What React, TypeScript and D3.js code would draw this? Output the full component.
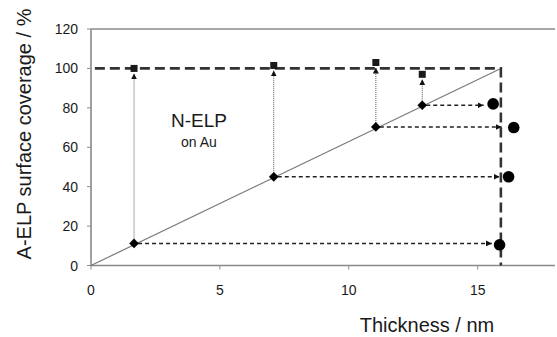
import { useEffect, useRef } from 'react';
import * as d3 from 'd3';

// thickness (nm) where each A-ELP layer sits on the diagonal
const diamondX = [1.67, 7.09, 11.05, 12.85];
const diamondY = [11.2, 45, 70.3, 81.3];
// measured coverage shown as squares
const squareY = [100, 101.5, 103, 97];
// measured thickness shown as circles
const circleX = [15.85, 16.2, 16.4, 15.6];
const circleY = [10.5, 45, 70, 82];
// where the horizontal arrows stop
const arrowEndX = [15.55, 15.85, 15.93, 15.23];

const maxThickness = 15.9;
const xTicks = [0, 5, 10, 15];
const yTicks = [0, 20, 40, 60, 80, 100, 120];

const W = 557;
const H = 337;
const FONT = 'Liberation Sans, Arial, Helvetica, sans-serif';

const App = () => {
  const ref = useRef<SVGSVGElement>(null);

  useEffect(() => {
    const svg = d3.select(ref.current);
    svg.selectAll('*').remove();

    const x = d3.scaleLinear().domain([0, 18]).range([91, 555]);
    const y = d3.scaleLinear().domain([0, 120]).range([265.5, 29]);

    const defs = svg.append('defs');
    defs.append('marker')
      .attr('id', 'ah')
      .attr('viewBox', '0 0 10 10')
      .attr('refX', 10)
      .attr('refY', 5)
      .attr('markerWidth', 6)
      .attr('markerHeight', 6)
      .attr('markerUnits', 'userSpaceOnUse')
      .attr('orient', 'auto')
      .append('path')
      .attr('d', 'M0,0L10,5L0,10Z')
      .attr('fill', '#111');

    // axes
    const axisColor = '#8a8a8a';
    svg.append('line')
      .attr('x1', x(0)).attr('x2', x(18))
      .attr('y1', y(0)).attr('y2', y(0))
      .attr('stroke', axisColor).attr('stroke-width', 1.6);
    svg.append('line')
      .attr('x1', x(0)).attr('x2', x(18))
      .attr('y1', y(120)).attr('y2', y(120))
      .attr('stroke', axisColor).attr('stroke-width', 1.6);
    svg.append('line')
      .attr('x1', x(0)).attr('x2', x(0))
      .attr('y1', y(0)).attr('y2', y(120))
      .attr('stroke', axisColor).attr('stroke-width', 1.6);

    xTicks.forEach((t) => {
      svg.append('line')
        .attr('x1', x(t)).attr('x2', x(t))
        .attr('y1', y(0)).attr('y2', y(0) + 4)
        .attr('stroke', axisColor).attr('stroke-width', 1);
      svg.append('text')
        .attr('x', x(t)).attr('y', 295)
        .attr('text-anchor', 'middle')
        .attr('font-family', FONT).attr('font-size', 14)
        .attr('fill', '#1a1a1a')
        .text(t);
    });
    yTicks.forEach((t) => {
      svg.append('line')
        .attr('x1', x(0) - 4).attr('x2', x(0))
        .attr('y1', y(t)).attr('y2', y(t))
        .attr('stroke', axisColor).attr('stroke-width', 1);
      svg.append('text')
        .attr('x', 78).attr('y', y(t) + 5)
        .attr('text-anchor', 'end')
        .attr('font-family', FONT).attr('font-size', 14)
        .attr('fill', '#1a1a1a')
        .text(t);
    });

    svg.append('text')
      .attr('x', 427).attr('y', 332)
      .attr('text-anchor', 'middle')
      .attr('font-family', FONT).attr('font-size', 20)
      .attr('fill', '#1a1a1a')
      .text('Thickness / nm');
    svg.append('text')
      .attr('transform', 'translate(31,134) rotate(-90)')
      .attr('text-anchor', 'middle')
      .attr('font-family', FONT).attr('font-size', 20)
      .attr('fill', '#1a1a1a')
      .text('A-ELP surface coverage / %');

    // label
    svg.append('text')
      .attr('x', 199).attr('y', 127)
      .attr('text-anchor', 'middle')
      .attr('font-family', FONT).attr('font-size', 19)
      .attr('fill', '#1a1a1a')
      .text('N-ELP');
    svg.append('text')
      .attr('x', 199).attr('y', 147)
      .attr('text-anchor', 'middle')
      .attr('font-family', FONT).attr('font-size', 14)
      .attr('fill', '#1a1a1a')
      .text('on Au');

    // diagonal
    svg.append('line')
      .attr('x1', x(0)).attr('y1', y(0))
      .attr('x2', x(maxThickness)).attr('y2', y(100))
      .attr('stroke', '#7a7a7a').attr('stroke-width', 1.2);

    // 100 % and max thickness dashed frame
    svg.append('path')
      .attr('d', `M${x(0.15)},${y(100)}H${x(maxThickness)}V${y(0)}`)
      .attr('fill', 'none')
      .attr('stroke', '#333')
      .attr('stroke-width', 2.6)
      .attr('stroke-dasharray', '10,5');

    // vertical dotted arrows
    diamondX.forEach((dx, i) => {
      svg.append('line')
        .attr('x1', x(dx)).attr('x2', x(dx))
        .attr('y1', y(diamondY[i]) - 4)
        .attr('y2', y(squareY[i]) + 5)
        .attr('stroke', '#555')
        .attr('stroke-width', 1)
        .attr('stroke-dasharray', '1,1')
        .attr('marker-end', 'url(#ah)');
    });

    // horizontal dashed arrows
    diamondX.forEach((dx, i) => {
      svg.append('line')
        .attr('x1', x(dx) + 4).attr('x2', x(arrowEndX[i]))
        .attr('y1', y(diamondY[i])).attr('y2', y(diamondY[i]))
        .attr('stroke', '#222')
        .attr('stroke-width', 1.6)
        .attr('stroke-dasharray', '4,3')
        .attr('marker-end', 'url(#ah)');
    });

    // squares
    const sq = 7;
    svg.selectAll('rect.sq')
      .data(diamondX)
      .join('rect')
      .attr('class', 'sq')
      .attr('x', (d) => x(d) - sq / 2)
      .attr('y', (_, i) => y(squareY[i]) - sq / 2)
      .attr('width', sq).attr('height', sq)
      .attr('fill', '#1a1a1a');

    // diamonds
    const diamond = d3.symbol().type(d3.symbolDiamond2).size(60);
    svg.selectAll('path.dm')
      .data(diamondX)
      .join('path')
      .attr('class', 'dm')
      .attr('d', diamond)
      .attr('transform', (d, i) => `translate(${x(d)},${y(diamondY[i])})`)
      .attr('fill', '#000');

    // circles
    svg.selectAll('circle.ci')
      .data(circleX)
      .join('circle')
      .attr('class', 'ci')
      .attr('cx', (d) => x(d))
      .attr('cy', (_, i) => y(circleY[i]))
      .attr('r', 5.8)
      .attr('fill', '#000');
  }, []);

  return (
    <svg
      ref={ref}
      width={W}
      height={H}
      style={{ position: 'absolute', left: 0, top: 0, background: '#fff' }}
    />
  );
};

export default App;
